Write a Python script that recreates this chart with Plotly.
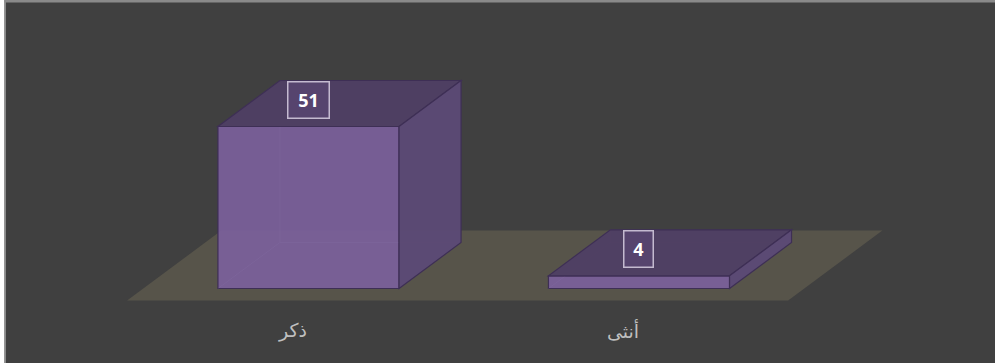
import plotly.graph_objects as go

# ---- data ----
categories = ["ذكر", "أنثى"]
values = [51, 4]

# ---- layout / style constants ----
W, H = 995, 363
X_RANGE = [-0.9334, 2.0772]
Y_RANGE = [-23.45, 90.83]
BAR_HALF = 0.274          # half bar width (category units)
DEPTH_X = 0.1876          # oblique depth offset, x (category units)
DEPTH_Y = 14.48           # oblique depth offset, y (value units)
FLOOR_PAD = 0.26          # floor extends this fraction of depth in front/behind

BG = "#404040"
FLOOR = "#57544a"
FRONT = "rgba(124,97,157,0.90)"
TOP = "rgba(79,63,100,0.95)"
SIDE = "rgba(92,74,118,0.95)"
EDGE = "#3e2f55"
HIDDEN = "rgba(150,125,180,0.15)"
LABEL_BOX = "rgba(86,68,110,1)"

def path(pts):
    return "M " + " L ".join(f"{x},{y}" for x, y in pts) + " Z"

def line_path(pts):
    return "M " + " L ".join(f"{x},{y}" for x, y in pts)

shapes = []

# floor
n = len(categories)
fx0, fx1 = -0.5, n - 0.5
pf = FLOOR_PAD
floor_pts = [
    (fx0 - pf * DEPTH_X, -pf * DEPTH_Y),
    (fx1 - pf * DEPTH_X, -pf * DEPTH_Y),
    (fx1 + (1 + pf) * DEPTH_X, (1 + pf) * DEPTH_Y),
    (fx0 + (1 + pf) * DEPTH_X, (1 + pf) * DEPTH_Y),
]
shapes.append(dict(type="path", path=path(floor_pts), xref="x", yref="y",
                   fillcolor=FLOOR, line=dict(width=0), layer="below"))

annotations = []
for i, (cat, v) in enumerate(zip(categories, values)):
    x0, x1 = i - BAR_HALF, i + BAR_HALF
    dx, dy = DEPTH_X, DEPTH_Y
    # front face
    shapes.append(dict(type="path", xref="x", yref="y",
                       path=path([(x0, 0), (x1, 0), (x1, v), (x0, v)]),
                       fillcolor=FRONT, line=dict(color=EDGE, width=1.2)))
    # hidden back edges (seen through the translucent box)
    shapes.append(dict(type="path", xref="x", yref="y",
                       path=line_path([(x0, 0), (x0 + dx, dy), (x1 + dx, dy)]),
                       line=dict(color=HIDDEN, width=1)))
    shapes.append(dict(type="path", xref="x", yref="y",
                       path=line_path([(x0 + dx, dy), (x0 + dx, v + dy)]),
                       line=dict(color=HIDDEN, width=1)))
    # top face
    shapes.append(dict(type="path", xref="x", yref="y",
                       path=path([(x0, v), (x1, v), (x1 + dx, v + dy), (x0 + dx, v + dy)]),
                       fillcolor=TOP, line=dict(color=EDGE, width=1.2)))
    # right side face
    shapes.append(dict(type="path", xref="x", yref="y",
                       path=path([(x1, 0), (x1 + dx, dy), (x1 + dx, v + dy), (x1, v)]),
                       fillcolor=SIDE, line=dict(color=EDGE, width=1.2)))

    # value label
    txt = str(v)
    annotations.append(dict(x=i, y=v, xref="x", yref="y", text=f"<b>{txt}</b>",
                            showarrow=False, yanchor="bottom", yshift=8,
                            font=dict(family="Open Sans", size=18, color="#ffffff"),
                            bgcolor=LABEL_BOX, bordercolor="#c4bad0", borderwidth=1.5,
                            borderpad=0, width=16 + 12 * len(txt), height=35))
    # category label (on the floor's front edge)
    annotations.append(dict(x=i - pf * DEPTH_X, y=-pf * DEPTH_Y, xref="x", yref="y",
                            text=cat, showarrow=False, yanchor="middle", yshift=-30,
                            font=dict(family="DejaVu Sans", size=19, color="#bfbfbf")))

# frame decoration (white strip at left, grey border lines)
shapes.append(dict(type="rect", xref="paper", yref="paper", x0=0, x1=4.5 / W, y0=0, y1=1,
                   fillcolor="#ffffff", line=dict(width=0), layer="above"))
shapes.append(dict(type="rect", xref="paper", yref="paper", x0=4.5 / W, x1=6 / W, y0=0, y1=1,
                   fillcolor="#8a8a8a", line=dict(width=0), layer="above"))
shapes.append(dict(type="rect", xref="paper", yref="paper", x0=4.5 / W, x1=1, y0=1 - 2.5 / H, y1=1,
                   fillcolor="#8a8a8a", line=dict(width=0), layer="above"))

fig = go.Figure()
# invisible trace to carry the data through the axes
fig.add_trace(go.Scatter(x=list(range(n)), y=values, mode="markers",
                         marker=dict(opacity=0), hoverinfo="skip", showlegend=False))

fig.update_layout(
    width=W, height=H,
    margin=dict(l=0, r=0, t=0, b=0),
    paper_bgcolor=BG, plot_bgcolor=BG,
    xaxis=dict(range=X_RANGE, visible=False, fixedrange=True),
    yaxis=dict(range=Y_RANGE, visible=False, fixedrange=True),
    shapes=shapes, annotations=annotations, showlegend=False,
)

fig.write_html("out.html")
